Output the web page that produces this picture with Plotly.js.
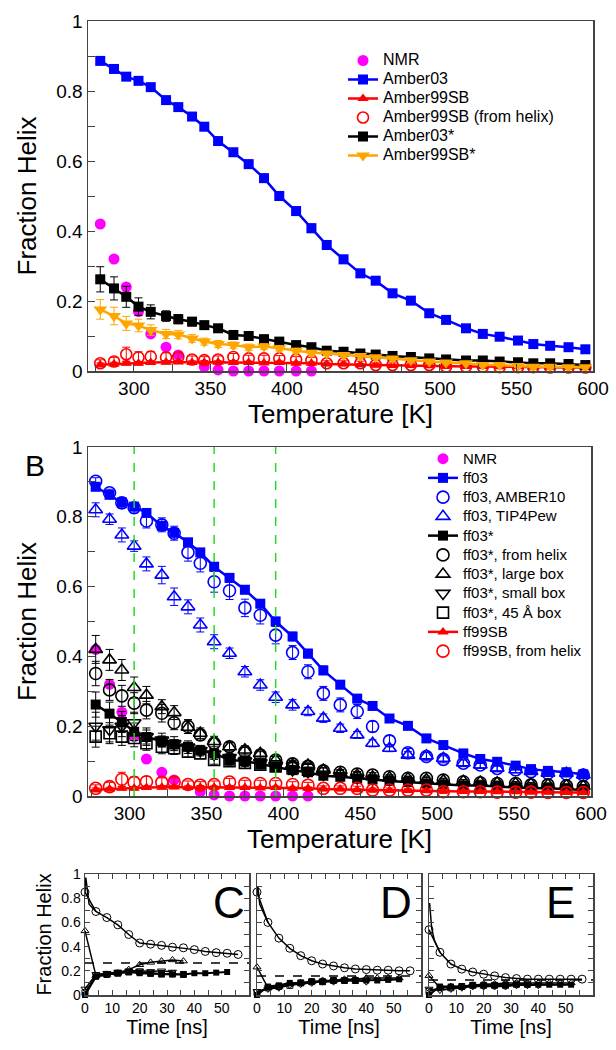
<!DOCTYPE html>
<html><head><meta charset="utf-8">
<script src="https://cdn.plot.ly/plotly-3.0.1.min.js"></script>
<style>html,body{margin:0;padding:0;background:#fff}#chart{width:616px;height:1050px}</style>
</head><body><div id="chart"></div>
<script>
// ---------- Panel A / B data ----------
const temps = [278,287,295,303,311,321,329,338,346,355,365,375,385,395,406,416,426,437,448,458,469,481,493,504,517,528,539,551,561,572,584,595];
const nmrTemps = [278,287,295,303,311,321,329,346,355,365,375,385,395,406,416];
const nmr = [0.42,0.32,0.24,0.17,0.106,0.068,0.046,0.012,0.003,0,0,0,0,0,0];

const amber03 = [0.886,0.863,0.841,0.829,0.811,0.774,0.754,0.727,0.698,0.657,0.625,0.591,0.551,0.500,0.457,0.408,0.360,0.319,0.279,0.258,0.222,0.201,0.165,0.146,0.122,0.106,0.098,0.087,0.077,0.072,0.068,0.062];
const amber03Err = [0.005,0.006,0.006,0.006,0.007,0.008,0.008,0.009,0.01,0.01,0.011,0.012,0.012,0.013,0.013,0.013,0.013,0.012,0.012,0.011,0.01,0.01,0.009,0.008,0.008,0.007,0.007,0.006,0.006,0.006,0.005,0.005];
const amber99sb = [0.018,0.02,0.022,0.022,0.024,0.025,0.026,0.024,0.025,0.025,0.024,0.024,0.023,0.024,0.022,0.022,0.02,0.02,0.018,0.017,0.016,0.016,0.015,0.014,0.013,0.013,0.012,0.012,0.011,0.011,0.01,0.01];
const amber99sbErr = [0.005,0.005,0.005,0.005,0.005,0.005,0.005,0.005,0.005,0.004,0.004,0.004,0.004,0.004,0.004,0.004,0.003,0.003,0.003,0.003,0.003,0.003,0.003,0.003,0.003,0.003,0.003,0.003,0.003,0.003,0.003,0.003];
const amber99sbHelix = [0.022,0.027,0.048,0.039,0.041,0.039,0.040,0.033,0.031,0.033,0.040,0.036,0.036,0.036,0.033,0.031,0.022,0.022,0.022,0.017,0.017,0.017,0.017,0.012,0.012,0.012,0.011,0.011,0.011,0.010,0.010,0.010];
const amber99sbHelixErr = [0.01,0.012,0.02,0.016,0.015,0.013,0.012,0.01,0.01,0.01,0.01,0.009,0.009,0.008,0.008,0.008,0.007,0.007,0.006,0.006,0.006,0.005,0.005,0.005,0.005,0.005,0.004,0.004,0.004,0.004,0.004,0.004];
const amber03s = [0.262,0.236,0.212,0.184,0.169,0.157,0.148,0.141,0.131,0.122,0.103,0.100,0.091,0.084,0.074,0.068,0.058,0.055,0.050,0.047,0.043,0.040,0.036,0.033,0.030,0.030,0.027,0.025,0.022,0.022,0.020,0.017];
const amber03sErr = [0.036,0.033,0.03,0.025,0.02,0.015,0.013,0.012,0.011,0.01,0.009,0.008,0.008,0.007,0.007,0.006,0.006,0.006,0.005,0.005,0.005,0.005,0.005,0.004,0.004,0.004,0.004,0.004,0.004,0.004,0.004,0.004];
const amber99sbs = [0.176,0.157,0.136,0.130,0.117,0.106,0.104,0.093,0.084,0.077,0.074,0.068,0.070,0.065,0.058,0.052,0.050,0.046,0.043,0.039,0.036,0.031,0.027,0.024,0.022,0.017,0.017,0.014,0.012,0.012,0.011,0.011];
const amber99sbsErr = [0.028,0.025,0.02,0.018,0.015,0.013,0.012,0.011,0.01,0.01,0.009,0.009,0.008,0.008,0.007,0.007,0.006,0.006,0.006,0.005,0.005,0.005,0.005,0.004,0.004,0.004,0.004,0.004,0.004,0.004,0.004,0.004];

const ff03Amber10 = [0.902,0.869,0.84,0.826,0.788,0.777,0.753,0.698,0.667,0.614,0.588,0.539,0.518,0.461,0.411,0.356,0.294,0.261,0.242,0.199,0.158,0.124,0.113,0.105,0.094,0.089,0.079,0.075,0.07,0.065,0.063,0.06];
const ff03Amber10Err = [0.01,0.01,0.015,0.015,0.02,0.02,0.02,0.025,0.025,0.03,0.025,0.025,0.025,0.025,0.02,0.02,0.02,0.02,0.02,0.015,0.015,0.012,0.012,0.01,0.01,0.01,0.01,0.008,0.008,0.008,0.008,0.008];
const ff03Tip4p = [0.82,0.793,0.748,0.716,0.665,0.633,0.571,0.542,0.49,0.442,0.409,0.356,0.318,0.283,0.261,0.242,0.223,0.194,0.175,0.151,0.137,0.117,0.115,0.108,0.095,0.089,0.08,0.075,0.07,0.065,0.065,0.06];
const ff03Tip4pErr = [0.02,0.015,0.02,0.015,0.02,0.025,0.025,0.02,0.02,0.02,0.015,0.015,0.015,0.015,0.015,0.012,0.012,0.012,0.01,0.01,0.01,0.01,0.01,0.01,0.008,0.008,0.008,0.008,0.008,0.008,0.008,0.008];
const ff03sHelix = [0.351,0.304,0.287,0.266,0.246,0.237,0.21,0.199,0.175,0.151,0.141,0.127,0.117,0.103,0.092,0.085,0.072,0.068,0.063,0.06,0.055,0.051,0.051,0.046,0.041,0.038,0.036,0.036,0.032,0.032,0.029,0.027];
const ff03sHelixErr = [0.035,0.03,0.03,0.03,0.025,0.025,0.02,0.02,0.015,0.015,0.012,0.012,0.01,0.01,0.01,0.008,0.008,0.008,0.007,0.007,0.006,0.006,0.006,0.005,0.005,0.005,0.005,0.005,0.005,0.005,0.005,0.005];
const ff03sLarge = [0.42,0.39,0.361,0.311,0.289,0.256,0.239,0.197,0.18,0.156,0.141,0.132,0.122,0.103,0.089,0.089,0.074,0.065,0.06,0.055,0.052,0.05,0.047,0.044,0.042,0.04,0.038,0.036,0.034,0.032,0.03,0.028];
const ff03sLargeErr = [0.04,0.03,0.03,0.03,0.025,0.02,0.02,0.018,0.015,0.015,0.012,0.012,0.01,0.01,0.01,0.008,0.008,0.008,0.007,0.007,0.006,0.006,0.006,0.005,0.005,0.005,0.005,0.005,0.005,0.005,0.005,0.005];
const ff03sSmall = [0.2,0.19,0.2,0.21,0.17,0.16,0.15,0.14,0.13,0.12,0.11,0.1,0.095,0.085,0.075,0.07,0.062,0.058,0.052,0.048];
const ff03sSmallErr = [0.04,0.035,0.03,0.03,0.025,0.02,0.02,0.018,0.015,0.015,0.012,0.012,0.01,0.01,0.01,0.008,0.008,0.008,0.007,0.007];
const ff03s45 = [0.17,0.18,0.17,0.166,0.151,0.141,0.137,0.127,0.122,0.103,0.1,0.095,0.09,0.085,0.08,0.075];
const ff03s45Err = [0.03,0.03,0.025,0.025,0.02,0.02,0.018,0.015,0.015,0.012,0.012,0.01,0.01,0.01,0.008,0.008];
const greenLineTemps = [303,355,395];

// ---------- Panels C / D / E data ----------
const tMark = [0,4,8,12,16,20,24,28,32,36,40,44,48,52,56];
const cHelix = [0.85,0.69,0.64,0.58,0.50,0.43,0.42,0.41,0.395,0.39,0.375,0.36,0.35,0.345,0.335];
const cSpikeT = [0,0.3,1.5,4]; const cSpikeV = [0.85,0.97,0.75,0.69];
const cLarge = [0.53,0.16,0.17,0.18,0.21,0.25,0.27,0.28,0.29,0.28];
const cStd = [0.0,0.15,0.17,0.18,0.19,0.18,0.175,0.17,0.17,0.17,0.18,0.18,0.185,0.19];
const cSmall = [0.05,0.17,0.18,0.19,0.2,0.2,0.195,0.2,0.19];
const c45 = [0.02,0.16,0.17,0.18,0.19,0.19,0.18,0.175,0.175,0.17];
const dHelix = [0.85,0.60,0.47,0.386,0.325,0.283,0.256,0.24,0.225,0.215,0.21,0.205,0.205,0.2,0.2];
const dSpikeT = [0,0.3,1,4]; const dSpikeV = [0.85,0.9,0.75,0.6];
const dLarge = [0.23,0.06,0.07,0.09,0.10,0.11,0.12,0.12,0.13,0.13,0.14,0.14,0.14,0.14];
const dStd = [0.0,0.07,0.08,0.10,0.10,0.11,0.11,0.12,0.12,0.12,0.12,0.12,0.125,0.13];
const dSmall = [0.03,0.05,0.06,0.08,0.09,0.10,0.11,0.11,0.12,0.12,0.11];
const d45 = [0.02,0.06,0.07,0.08,0.10,0.11,0.11,0.12,0.12,0.12];
const eHelix = [0.54,0.353,0.256,0.214,0.19,0.172,0.158,0.144,0.136,0.131,0.131,0.131,0.131,0.131,0.131];
const eSpikeT = [0.2,1,2,4]; const eSpikeV = [0.76,0.55,0.45,0.353];
const eLarge = [0.16,0.06,0.07,0.07,0.08,0.09,0.09,0.10,0.10,0.10,0.10,0.10,0.10,0.10];
const eStd = [0.0,0.07,0.07,0.07,0.08,0.08,0.08,0.08,0.085,0.085,0.085,0.085,0.085,0.085];
const eSmall = [0.05,0.04,0.05,0.06,0.07,0.07,0.07,0.07,0.08,0.08,0.08];
const e45 = [0.03,0.06,0.06,0.07,0.08,0.08,0.08,0.08,0.09,0.09];
const eqLevels = [0.265,0.158,0.125];

// ---------- styling helpers ----------
const FONT = 'Arial, "Liberation Sans", Helvetica, sans-serif';
const BLUE='#0000FF', RED='#FF0000', MAG='#FF00FF', ORANGE='#FFA500', BLACK='#000000';
function lbl(s,fs){ return '<span style="font-size:'+fs+'px">'+s+'</span>'; }
function err(arr,color){ return arr ? {type:'data',array:arr,visible:true,color:color,thickness:1,width:4} : undefined; }
function trace(x,y,o){
  const t = {x:x, y:y, xaxis:o.xa, yaxis:o.ya, name:o.name?lbl(o.name,o.legend==='legend'?16:15):undefined, legend:o.legend, showlegend:o.legend!==undefined,
    mode:o.mode||'lines+markers', cliponaxis:false,
    marker:{symbol:o.symbol, size:o.size||10, color:o.color, line:{color:o.color, width:o.mlw||0}},
    line:{color:o.color, width:o.lw||2.5}};
  if(o.err) t.error_y = err(o.err, o.errColor||o.color);
  return t;
}
const data = [];
// Panel A
data.push(trace(nmrTemps,nmr,{xa:'x',ya:'y',legend:'legend',name:'NMR',mode:'markers',symbol:'circle',size:11,color:MAG}));
data.push(trace(temps,amber03,{xa:'x',ya:'y',legend:'legend',name:'Amber03',symbol:'square',size:10,color:BLUE,err:amber03Err,errColor:'rgba(60,60,255,0.7)'}));
data.push(trace(temps,amber99sb,{xa:'x',ya:'y',legend:'legend',name:'Amber99SB',symbol:'triangle-up',size:10,color:RED,err:amber99sbErr}));
data.push(trace(temps,amber99sbHelix,{xa:'x',ya:'y',legend:'legend',name:'Amber99SB (from helix)',mode:'markers',symbol:'circle-open',size:11,mlw:1.6,color:RED,err:amber99sbHelixErr}));
data.push(trace(temps,amber03s,{xa:'x',ya:'y',legend:'legend',name:'Amber03*',symbol:'square',size:10,color:BLACK,err:amber03sErr}));
data.push(trace(temps,amber99sbs,{xa:'x',ya:'y',legend:'legend',name:'Amber99SB*',symbol:'triangle-down',size:12,color:ORANGE,err:amber99sbsErr}));
// Panel B
data.push(trace(nmrTemps,nmr,{xa:'x2',ya:'y2',legend:'legend2',name:'NMR',mode:'markers',symbol:'circle',size:11,color:MAG}));
data.push(trace(temps,amber03,{xa:'x2',ya:'y2',legend:'legend2',name:'ff03',symbol:'square',size:10,color:BLUE,err:amber03Err,errColor:'rgba(60,60,255,0.7)'}));
data.push(trace(temps,ff03Amber10,{xa:'x2',ya:'y2',legend:'legend2',name:'ff03, AMBER10',mode:'markers',symbol:'circle-open',size:12,mlw:1.6,color:BLUE,err:ff03Amber10Err}));
data.push(trace(temps,ff03Tip4p,{xa:'x2',ya:'y2',legend:'legend2',name:'ff03, TIP4Pew',mode:'markers',symbol:'triangle-up-open',size:12,mlw:1.6,color:BLUE,err:ff03Tip4pErr}));
data.push(trace(temps,amber03s,{xa:'x2',ya:'y2',legend:'legend2',name:'ff03*',symbol:'square',size:10,color:BLACK,err:amber03sErr}));
data.push(trace(temps,ff03sHelix,{xa:'x2',ya:'y2',legend:'legend2',name:'ff03*, from helix',mode:'markers',symbol:'circle-open',size:12,mlw:1.6,color:BLACK,err:ff03sHelixErr}));
data.push(trace(temps,ff03sLarge,{xa:'x2',ya:'y2',legend:'legend2',name:'ff03*, large box',mode:'markers',symbol:'triangle-up-open',size:12,mlw:1.6,color:BLACK,err:ff03sLargeErr}));
data.push(trace(temps.slice(0,ff03sSmall.length),ff03sSmall,{xa:'x2',ya:'y2',legend:'legend2',name:'ff03*, small box',mode:'markers',symbol:'triangle-down-open',size:12,mlw:1.6,color:BLACK,err:ff03sSmallErr}));
data.push(trace(temps.slice(0,ff03s45.length),ff03s45,{xa:'x2',ya:'y2',legend:'legend2',name:'ff03*, 45 Å box',mode:'markers',symbol:'square-open',size:11,mlw:1.6,color:BLACK,err:ff03s45Err}));
data.push(trace(temps,amber99sb,{xa:'x2',ya:'y2',legend:'legend2',name:'ff99SB',symbol:'triangle-up',size:10,color:RED,err:amber99sbErr}));
data.push(trace(temps,amber99sbHelix,{xa:'x2',ya:'y2',legend:'legend2',name:'ff99SB, from helix',mode:'markers',symbol:'circle-open',size:12,mlw:1.6,color:RED,err:amber99sbHelixErr}));

// Small panels
function smallPanel(xa,ya,helix,spT,spV,large,std,small,b45){
  data.push(trace(spT,spV,{xa:xa,ya:ya,mode:'lines',color:BLACK,lw:1.5}));
  data.push(trace(tMark.slice(0,helix.length),helix,{xa:xa,ya:ya,symbol:'circle-open',size:8,mlw:1,lw:1.5,color:BLACK}));
  data.push(trace(tMark.slice(0,large.length),large,{xa:xa,ya:ya,symbol:'triangle-up-open',size:7,mlw:1,lw:1.5,color:BLACK}));
  data.push(trace(tMark.slice(0,small.length),small,{xa:xa,ya:ya,symbol:'triangle-down-open',size:7,mlw:1,lw:1.5,color:BLACK}));
  data.push(trace(tMark.slice(0,b45.length),b45,{xa:xa,ya:ya,symbol:'square-open',size:6,mlw:1,lw:1.5,color:BLACK}));
  data.push(trace(tMark.slice(0,std.length),std,{xa:xa,ya:ya,symbol:'square',size:6,lw:2,color:BLACK}));
}
smallPanel('x3','y3',cHelix,cSpikeT,cSpikeV,cLarge,cStd,cSmall,c45);
smallPanel('x4','y4',dHelix,dSpikeT,dSpikeV,dLarge,dStd,dSmall,d45);
smallPanel('x5','y5',eHelix,eSpikeT,eSpikeV,eLarge,eStd,eSmall,e45);

// ---------- axes ----------
const W=616,H=1050;
function dx(a,b){return [a/W,b/W];}
function dy(top,bot){return [1-bot/H,1-top/H];}
const tempTicks=[]; for(let v=275; v<=600; v+=25) tempTicks.push(v);
const tempText=tempTicks.map(v=>v%50===0?String(v):'');
const fracTicks=[0,0.1,0.2,0.3,0.4,0.5,0.6,0.7,0.8,0.9,1];
const fracText=['0','','0.2','','0.4','','0.6','','0.8','','1'];
const timeTicks=[]; for(let v=0; v<=60; v+=5) timeTicks.push(v);
const timeText=timeTicks.map(v=>(v%10===0&&v<60)?String(v):'');
const LINEC='#444';
function bigX(dom,anchor,range){return {domain:dom,anchor:anchor,range:range,tickmode:'array',tickvals:tempTicks,ticktext:tempText,ticks:'inside',ticklen:7,tickcolor:LINEC,showline:true,linecolor:LINEC,linewidth:1.5,mirror:true,showgrid:false,zeroline:false,tickfont:{family:FONT,size:19,color:'#000'},title:{text:'Temperature [K]',font:{family:FONT,size:26,color:'#000'},standoff:6},automargin:false};}
function bigY(dom,anchor){return {domain:dom,anchor:anchor,range:[0,1],tickmode:'array',tickvals:fracTicks,ticktext:fracText,ticks:'inside',ticklen:7,tickcolor:LINEC,showline:true,linecolor:LINEC,linewidth:1.5,mirror:true,showgrid:false,zeroline:false,tickfont:{family:FONT,size:19,color:'#000'},title:{text:'Fraction Helix',font:{family:FONT,size:26,color:'#000'},standoff:12},automargin:false};}
function smallX(dom,anchor){return {domain:dom,anchor:anchor,range:[0,60],tickmode:'array',tickvals:timeTicks,ticktext:timeText,ticks:'inside',ticklen:5,tickcolor:LINEC,showline:true,linecolor:LINEC,linewidth:1.5,mirror:'allticks',showgrid:false,zeroline:false,tickfont:{family:FONT,size:14,color:'#000'},title:{text:'Time [ns]',font:{family:FONT,size:20,color:'#000'},standoff:1},automargin:false};}
function smallY(dom,anchor,labels){const a={domain:dom,anchor:anchor,range:[0,1],tickmode:'array',tickvals:fracTicks,ticktext:fracText,ticks:'inside',ticklen:5,tickcolor:LINEC,showline:true,linecolor:LINEC,linewidth:1.5,mirror:'allticks',showgrid:false,zeroline:false,showticklabels:labels,tickfont:{family:FONT,size:14,color:'#000'},automargin:false};
  if(labels) a.title={text:'Fraction Helix',font:{family:FONT,size:20,color:'#000'},standoff:4};
  return a;}

const shapes=[];
greenLineTemps.forEach(t=>shapes.push({type:'line',xref:'x2',yref:'y2 domain',x0:t,x1:t,y0:0,y1:1,line:{color:'#22DD22',width:1.5,dash:'dash'},layer:'above'}));
['3','4','5'].forEach((k,i)=>shapes.push({type:'line',xref:'x'+k+' domain',yref:'y'+k,x0:0,x1:1,y0:eqLevels[i],y1:eqLevels[i],line:{color:'#000',width:1.5,dash:'dash'},layer:'above'}));

const annotations=[
  {text:'B',xref:'paper',yref:'paper',x:35/W,y:1-465/H,showarrow:false,font:{family:FONT,size:30,color:'#000'},xanchor:'center',yanchor:'middle'},
  {text:'C',xref:'paper',yref:'paper',x:229/W,y:1-902/H,showarrow:false,font:{family:FONT,size:44,color:'#000'},xanchor:'center',yanchor:'middle'},
  {text:'D',xref:'paper',yref:'paper',x:396/W,y:1-902/H,showarrow:false,font:{family:FONT,size:44,color:'#000'},xanchor:'center',yanchor:'middle'},
  {text:'E',xref:'paper',yref:'paper',x:560/W,y:1-902/H,showarrow:false,font:{family:FONT,size:44,color:'#000'},xanchor:'center',yanchor:'middle'}
];

const legStyle={bgcolor:'rgba(0,0,0,0)',borderwidth:0,itemwidth:30,tracegroupgap:0,xanchor:'left',yanchor:'top'};
const layout={
  width:W,height:H,margin:{l:0,r:0,t:0,b:0},paper_bgcolor:'#fff',plot_bgcolor:'#fff',
  font:{family:FONT,color:'#000'},
  xaxis:bigX(dx(88,593),'y',[270,600]), yaxis:bigY(dy(21,371),'x'),
  xaxis2:bigX(dx(88,591),'y2',[273,600]), yaxis2:bigY(dy(447,796),'x2'),
  xaxis3:smallX(dx(85,249),'y3'), yaxis3:smallY(dy(874,995),'x3',true),
  xaxis4:smallX(dx(257,421),'y4'), yaxis4:smallY(dy(874,995),'x4',false),
  xaxis5:smallX(dx(429,593),'y5'), yaxis5:smallY(dy(874,995),'x5',false),
  legend:Object.assign({x:343/W,y:1-46/H,font:{family:FONT,size:11,color:'#000'}},legStyle),
  legend2:Object.assign({x:423/W,y:1-444/H,font:{family:FONT,size:12.5,color:'#000'}},legStyle),
  shapes:shapes, annotations:annotations, showlegend:true
};
Plotly.newPlot('chart',data,layout,{staticPlot:true,displayModeBar:false});
</script></body></html>
